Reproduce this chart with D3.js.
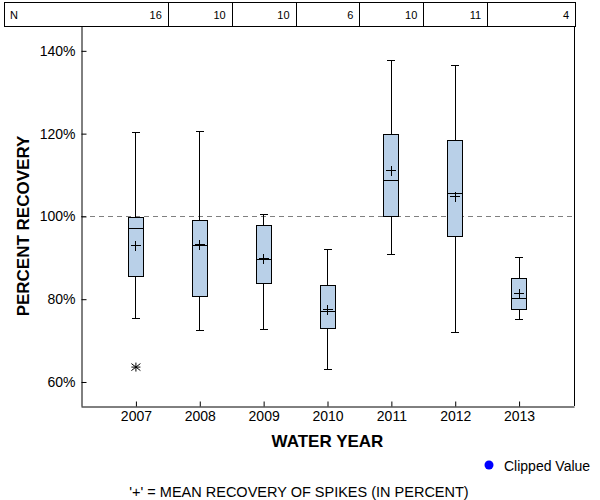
<!DOCTYPE html>
<meta charset="utf-8">
<style>
body { margin: 0; background-color: white; }
svg { font-family: "Liberation Sans", Arial, sans-serif; }
</style>
<body>
<svg class="chart"></svg>
<script src="https://cdn.jsdelivr.net/npm/d3@7"></script>
<script>
// values
var years = [2007, 2008, 2009, 2010, 2011, 2012, 2013];
var nCounts = [16, 10, 10, 6, 10, 11, 4];
var whiskerLow = [75.3, 72.4, 72.8, 62.9, 90.7, 71.9, 75.0];
var q1 = [85.4, 80.6, 83.7, 72.9, 99.9, 95.1, 77.5];
var median = [97.1, 92.9, 89.5, 77.0, 108.6, 105.5, 80.1];
var q3 = [99.7, 99.0, 97.8, 83.2, 119.7, 118.3, 84.9];
var whiskerHigh = [120.2, 120.5, 100.4, 91.9, 137.6, 136.4, 90.0];
var means = [92.9, 93.2, 89.8, 77.4, 111.0, 104.7, 81.3];
var outlierYears = [2007];
var outlierValues = [63.6];
var yTicks = [60, 80, 100, 120, 140];
var refLine = 100;
</script>
<script>
var w = 600, h = 500;
// plot area edges
var pLeft = 81, pRight = 574, pTop = 26, pBottom = 406;

var svg = d3.select('svg').attr('width', w).attr('height', h);

var x = d3.scaleLinear().domain([2006.14, 2013.86]).range([pLeft, pRight]);
var y = d3.scaleLinear().domain([54.2, 146.0]).range([pBottom, pTop]);

var boxes = years.map(function (yr, i) {
  return {year: yr, lo: whiskerLow[i], q1: q1[i], med: median[i],
    q3: q3[i], hi: whiskerHigh[i], mean: means[i]};
});

// N table on top
var cellEdges = [4].concat(years.slice(0, -1).map(function (d) { return x(d + 0.5); })).concat([575]);
var table = svg.append('g');
table.append('rect')
  .attr('x', 4.5).attr('y', 2.5)
  .attr('width', 575 - 4).attr('height', pTop - 2)
  .attr('fill', 'none').attr('stroke', 'black');
table.selectAll('line.div')
  .data(cellEdges.slice(1, -1))
  .enter().append('line')
  .attr('x1', function (d) { return Math.round(d) + 0.5; })
  .attr('x2', function (d) { return Math.round(d) + 0.5; })
  .attr('y1', 2.5).attr('y2', pTop + 0.5)
  .attr('stroke', 'black');
table.append('text')
  .attr('x', 10).attr('y', 19)
  .attr('font-size', '11px')
  .text('N');
table.selectAll('text.n')
  .data(nCounts)
  .enter().append('text')
  .attr('class', 'n')
  .attr('x', function (d, i) { return cellEdges[i + 1] - 6; })
  .attr('y', 19)
  .attr('font-size', '11px')
  .attr('text-anchor', 'end')
  .text(function (d) { return d; });

// frame
svg.append('line')
  .attr('x1', pRight + 0.5).attr('x2', pRight + 0.5)
  .attr('y1', pTop).attr('y2', pBottom)
  .attr('stroke', 'black');

// reference line at 100%
svg.append('line')
  .attr('x1', pLeft).attr('x2', pRight)
  .attr('y1', Math.round(y(refLine)) + 0.5).attr('y2', Math.round(y(refLine)) + 0.5)
  .attr('stroke', '#808080')
  .attr('stroke-dasharray', '5,4');

// axes
var yAxis = d3.axisLeft(y)
  .tickValues(yTicks)
  .tickFormat(function (d) { return d + '%'; })
  .tickSizeInner(-5).tickSizeOuter(0).tickPadding(6);
var gy = svg.append('g')
  .attr('transform', 'translate(' + (pLeft + 0.5) + ',0)')
  .call(yAxis);

var xAxis = d3.axisBottom(x)
  .tickValues(years)
  .tickFormat(d3.format('d'))
  .tickSizeInner(-5).tickSizeOuter(0).tickPadding(5);
var gx = svg.append('g')
  .attr('transform', 'translate(0,' + (pBottom + 0.5) + ')')
  .call(xAxis);

[gx, gy].forEach(function (g) {
  g.selectAll('text').attr('font-size', '14px').attr('fill', 'black')
    .attr('font-family', '"Liberation Sans", Arial, sans-serif');
  g.selectAll('path, line').attr('stroke', 'black');
});

// boxes
var boxW = 15, capW = 8, plusW = 10;
var gb = svg.selectAll('g.box')
  .data(boxes)
  .enter().append('g')
  .attr('class', 'box')
  .attr('stroke', 'black')
  .attr('stroke-width', 1)
  .attr('shape-rendering', 'crispEdges');

gb.append('line')
  .attr('x1', function (d) { return x(d.year); })
  .attr('x2', function (d) { return x(d.year); })
  .attr('y1', function (d) { return y(d.hi); })
  .attr('y2', function (d) { return y(d.lo); });
gb.append('line')
  .attr('x1', function (d) { return x(d.year) - capW / 2; })
  .attr('x2', function (d) { return x(d.year) + capW / 2; })
  .attr('y1', function (d) { return y(d.hi); })
  .attr('y2', function (d) { return y(d.hi); });
gb.append('line')
  .attr('x1', function (d) { return x(d.year) - capW / 2; })
  .attr('x2', function (d) { return x(d.year) + capW / 2; })
  .attr('y1', function (d) { return y(d.lo); })
  .attr('y2', function (d) { return y(d.lo); });
gb.append('rect')
  .attr('x', function (d) { return x(d.year) - boxW / 2; })
  .attr('width', boxW)
  .attr('y', function (d) { return y(d.q3); })
  .attr('height', function (d) { return y(d.q1) - y(d.q3); })
  .attr('fill', '#b9d0e8');
gb.append('line')
  .attr('x1', function (d) { return x(d.year) - boxW / 2; })
  .attr('x2', function (d) { return x(d.year) + boxW / 2; })
  .attr('y1', function (d) { return y(d.med); })
  .attr('y2', function (d) { return y(d.med); });
// mean marker
gb.append('line')
  .attr('x1', function (d) { return x(d.year) - plusW / 2; })
  .attr('x2', function (d) { return x(d.year) + plusW / 2; })
  .attr('y1', function (d) { return y(d.mean); })
  .attr('y2', function (d) { return y(d.mean); });
gb.append('line')
  .attr('x1', function (d) { return x(d.year); })
  .attr('x2', function (d) { return x(d.year); })
  .attr('y1', function (d) { return y(d.mean) - plusW / 2; })
  .attr('y2', function (d) { return y(d.mean) + plusW / 2; });

// outliers drawn as asterisks
var star = svg.selectAll('g.out')
  .data(outlierYears)
  .enter().append('g')
  .attr('transform', function (d, i) {
    return 'translate(' + x(d) + ',' + y(outlierValues[i]) + ')';
  })
  .attr('stroke', 'black');
star.append('line').attr('x1', -4.5).attr('x2', 4.5).attr('y1', 0).attr('y2', 0);
star.append('line').attr('x1', 0).attr('x2', 0).attr('y1', -4.5).attr('y2', 4.5);
star.append('line').attr('x1', -4.5).attr('x2', 4.5).attr('y1', -3.5).attr('y2', 3.5);
star.append('line').attr('x1', -4.5).attr('x2', 4.5).attr('y1', 3.5).attr('y2', -3.5);

// titles
svg.append('text')
  .attr('x', (pLeft + pRight) / 2).attr('y', 447)
  .attr('text-anchor', 'middle')
  .attr('font-size', '17px').attr('font-weight', 'bold')
  .text('WATER YEAR');
svg.append('text')
  .attr('transform', 'translate(29,226) rotate(-90)')
  .attr('text-anchor', 'middle')
  .attr('font-size', '17px').attr('font-weight', 'bold')
  .text('PERCENT RECOVERY');

// legend
svg.append('circle')
  .attr('cx', 489).attr('cy', 465).attr('r', 4.5)
  .attr('fill', '#0000ff');
svg.append('text')
  .attr('x', 504).attr('y', 471)
  .attr('font-size', '14px')
  .text('Clipped Value');

svg.append('text')
  .attr('x', 299).attr('y', 497)
  .attr('text-anchor', 'middle')
  .attr('font-size', '14.5px')
  .text("'+' = MEAN RECOVERY OF SPIKES (IN PERCENT)");
</script>
</body>
</html>
